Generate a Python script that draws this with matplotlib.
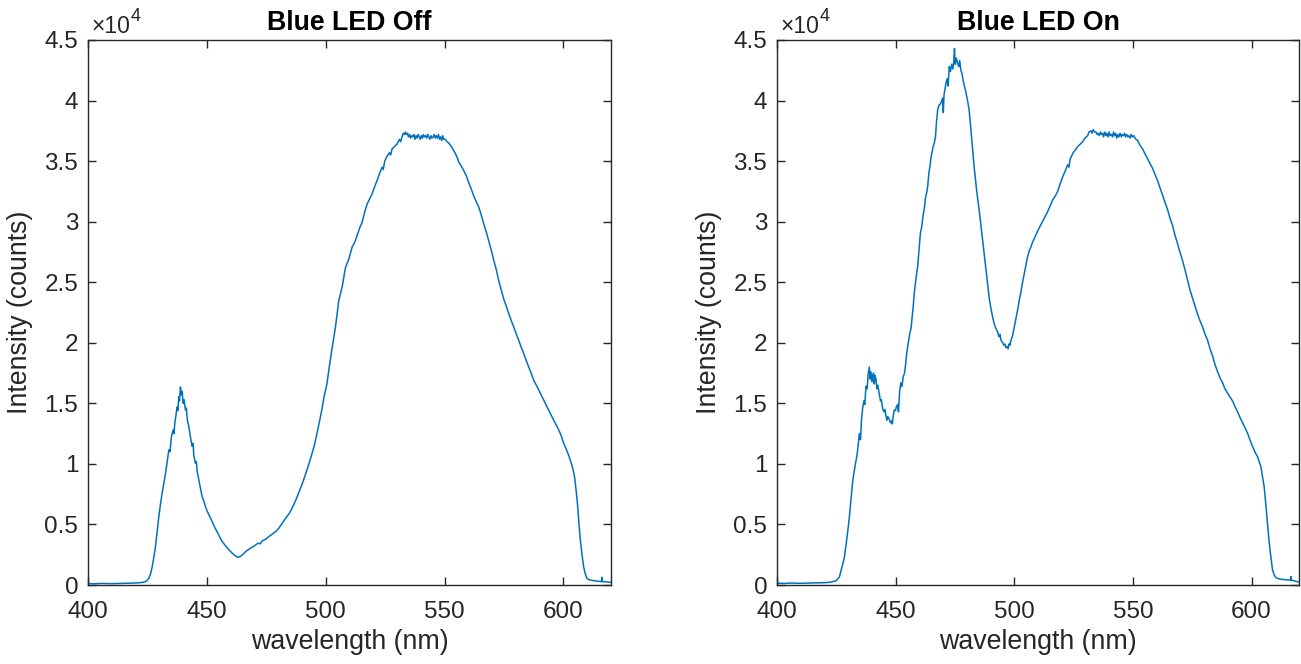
import numpy as np
import matplotlib
matplotlib.use('Agg')
import matplotlib.pyplot as plt
from matplotlib.ticker import FuncFormatter

plt.rcParams['font.family'] = ['Liberation Sans', 'DejaVu Sans']
plt.rcParams['mathtext.default'] = 'regular'

# Spectrometer readings, intensity in units of 1e4 counts
wl_off = [
    400, 403, 406, 409, 412, 415, 418, 421, 423, 424.5,
    425.6, 426.3, 427.0, 427.7, 428.4, 429.1, 429.8, 430.5, 431.2, 431.9,
    432.6, 433.3, 434.0, 434.5, 435.1, 435.8, 436.2, 436.5, 437.0, 437.5,
    437.8, 438.2, 438.5, 438.9, 439.2, 439.6, 440.0, 440.4, 441.0, 441.4,
    441.8, 442.4, 443.1, 443.8, 444.2, 444.5, 445.2, 445.6, 445.9, 446.6,
    447.3, 448.0, 448.6, 449.2, 450.1, 451.0, 452.2, 453.2, 454.3, 455.3,
    456.4, 457.8, 459.3, 460.8, 462.0, 463.2, 464.0, 465.0, 466.3, 468.0,
    469.8, 471.5, 472.5, 473.3, 474.5, 476.1, 477.5, 478.9, 480.3, 481.7,
    483.1, 484.6, 486.0, 487.4, 488.8, 490.2, 491.6, 493.0, 494.0, 495.1,
    496.1, 497.2, 498.3, 499.3, 500.5, 501.5, 502.7, 504.1, 505.5, 506.9,
    508.3, 509.7, 511.1, 512.2, 513.2, 514.3, 515.3, 516.4, 517.4, 518.5,
    519.5, 520.6, 521.6, 522.7, 523.7, 524.2, 524.8, 525.8, 526.8, 527.3,
    527.9, 528.9, 530.0, 531.0, 531.5, 532.1, 532.6, 533.1, 533.5, 533.9,
    534.4, 534.8, 535.3, 535.7, 536.2, 536.6, 537.1, 537.5, 538.0, 538.4,
    538.9, 539.3, 539.8, 540.2, 540.7, 541.1, 541.6, 542.0, 542.5, 542.9,
    543.4, 543.8, 544.3, 544.7, 545.2, 545.6, 546.1, 546.5, 547.0, 547.4,
    547.9, 548.3, 548.8, 549.2, 549.7, 550.3, 551.0, 551.7, 552.5, 553.5,
    554.6, 555.3, 556.0, 557.0, 558.1, 559.1, 560.2, 561.2, 562.3, 563.4,
    564.4, 565.5, 566.5, 567.6, 568.6, 569.7, 570.7, 571.8, 572.8, 573.9,
    574.9, 576.0, 577.0, 578.1, 579.1, 580.2, 581.2, 582.3, 583.3, 584.4,
    585.4, 586.5, 587.5, 588.6, 589.6, 590.7, 591.7, 592.8, 593.8, 594.9,
    595.9, 597.0, 598.0, 599.1, 600.1, 601.2, 602.2, 603.2, 604.1, 604.6,
    605.0, 605.5, 606.0, 606.5, 607.1, 607.8, 608.5, 609.2, 609.9, 611.0,
    612.7, 614.5, 616.0, 616.2, 616.4, 618.0, 620.0,
]
int_off = [
    0.012, 0.010, 0.013, 0.011, 0.012, 0.014, 0.015, 0.018, 0.022, 0.030,
    0.055, 0.090, 0.150, 0.230, 0.320, 0.440, 0.565, 0.670, 0.760, 0.840,
    0.920, 1.020, 1.115, 1.100, 1.225, 1.280, 1.250, 1.335, 1.400, 1.470,
    1.440, 1.555, 1.520, 1.635, 1.570, 1.600, 1.500, 1.530, 1.445, 1.460,
    1.360, 1.310, 1.220, 1.145, 1.170, 1.070, 1.005, 1.020, 0.940, 0.870,
    0.800, 0.730, 0.700, 0.660, 0.610, 0.575, 0.525, 0.480, 0.440, 0.400,
    0.360, 0.325, 0.290, 0.260, 0.240, 0.228, 0.235, 0.250, 0.275, 0.300,
    0.320, 0.345, 0.340, 0.365, 0.375, 0.400, 0.420, 0.440, 0.470, 0.510,
    0.550, 0.590, 0.640, 0.700, 0.770, 0.840, 0.920, 1.005, 1.070, 1.145,
    1.230, 1.335, 1.440, 1.555, 1.660, 1.800, 1.960, 2.130, 2.350, 2.460,
    2.620, 2.690, 2.790, 2.830, 2.885, 2.950, 2.995, 3.080, 3.145, 3.190,
    3.230, 3.290, 3.340, 3.400, 3.450, 3.430, 3.500, 3.540, 3.570, 3.550,
    3.600, 3.620, 3.640, 3.680, 3.660, 3.700, 3.730, 3.720, 3.740, 3.720,
    3.730, 3.700, 3.720, 3.690, 3.710, 3.700, 3.720, 3.680, 3.710, 3.690,
    3.720, 3.700, 3.680, 3.710, 3.690, 3.720, 3.700, 3.710, 3.690, 3.720,
    3.700, 3.680, 3.710, 3.690, 3.700, 3.720, 3.690, 3.710, 3.690, 3.720,
    3.680, 3.700, 3.670, 3.710, 3.680, 3.680, 3.660, 3.650, 3.630, 3.600,
    3.560, 3.530, 3.490, 3.460, 3.420, 3.380, 3.320, 3.270, 3.210, 3.160,
    3.120, 3.050, 2.980, 2.910, 2.840, 2.760, 2.680, 2.600, 2.510, 2.430,
    2.360, 2.300, 2.240, 2.180, 2.130, 2.070, 2.020, 1.960, 1.910, 1.850,
    1.800, 1.745, 1.690, 1.650, 1.610, 1.565, 1.525, 1.480, 1.440, 1.400,
    1.360, 1.320, 1.280, 1.230, 1.170, 1.120, 1.070, 1.010, 0.950, 0.900,
    0.840, 0.750, 0.645, 0.510, 0.370, 0.250, 0.150, 0.090, 0.055, 0.042,
    0.036, 0.031, 0.028, 0.063, 0.028, 0.025, 0.022,
]

wl_on = [
    400, 403, 406, 409, 412, 415, 418, 421, 423, 424.9,
    426.3, 427.0, 427.7, 428.4, 429.1, 429.8, 430.5, 431.2, 431.9, 432.8,
    433.7, 434.2, 434.7, 435.2, 435.6, 436.1, 436.6, 437.0, 437.5, 438.0,
    438.4, 438.9, 439.2, 439.6, 440.0, 440.3, 440.7, 441.0, 441.3, 441.7,
    442.1, 442.5, 443.1, 443.6, 444.0, 444.5, 445.0, 445.5, 445.9, 446.3,
    446.7, 447.3, 447.8, 448.3, 448.6, 449.0, 449.4, 449.9, 450.3, 450.8,
    451.2, 451.7, 452.2, 452.7, 453.2, 453.7, 454.2, 454.6, 455.1, 455.6,
    456.0, 456.5, 457.0, 457.4, 457.9, 458.4, 458.9, 459.3, 459.8, 460.1,
    460.4, 461.0, 461.5, 462.1, 462.6, 463.1, 463.5, 464.0, 464.5, 464.9,
    465.3, 465.8, 466.3, 466.8, 467.2, 467.7, 468.2, 468.8, 469.3, 469.8,
    470.1, 470.4, 471.2, 471.7, 472.1, 472.6, 473.1, 473.6, 474.1, 474.5,
    474.8, 475.1, 475.6, 476.1, 476.6, 477.0, 477.5, 478.0, 478.5, 479.0,
    479.6, 480.3, 481.0, 481.7, 482.4, 483.1, 483.8, 484.5, 485.3, 486.0,
    486.7, 487.4, 488.1, 488.8, 489.5, 490.2, 490.9, 491.5, 492.2, 493.0,
    493.5, 494.0, 494.4, 495.1, 495.6, 496.1, 496.5, 496.9, 497.4, 497.8,
    498.2, 498.6, 499.3, 500.0, 500.7, 501.4, 502.1, 502.8, 503.5, 504.2,
    504.9, 505.6, 506.3, 507.0, 507.7, 508.4, 509.1, 509.8, 510.8, 511.9,
    512.9, 514.0, 515.1, 516.2, 517.2, 518.3, 519.3, 520.4, 521.5, 522.5,
    523.0, 523.6, 524.6, 525.2, 525.7, 526.7, 527.8, 528.8, 529.8, 530.9,
    531.5, 532.3, 532.8, 533.3, 533.9, 534.4, 534.9, 535.3, 535.8, 536.3,
    536.7, 537.2, 537.6, 538.1, 538.6, 539.0, 539.5, 540.0, 540.4, 540.9,
    541.4, 541.8, 542.3, 542.7, 543.2, 543.7, 544.1, 544.6, 545.1, 545.5,
    546.0, 546.5, 546.9, 547.4, 547.9, 548.3, 548.8, 549.3, 549.8, 550.3,
    550.6, 551.3, 552.0, 553.0, 554.1, 555.1, 556.2, 557.2, 558.3, 559.3,
    560.4, 561.4, 562.5, 563.5, 564.6, 565.6, 566.7, 567.7, 568.8, 569.8,
    570.9, 572.0, 573.0, 574.0, 575.1, 576.2, 577.2, 578.3, 579.4, 580.4,
    581.5, 582.5, 583.6, 584.6, 585.7, 586.7, 587.8, 588.8, 589.9, 591.0,
    592.0, 593.0, 594.1, 595.1, 596.2, 597.2, 598.3, 599.3, 600.4, 601.4,
    602.5, 603.2, 603.9, 604.6, 605.3, 606.0, 606.7, 607.3, 607.9, 608.4,
    608.8, 609.5, 610.3, 611.3, 612.4, 614.5, 616.4, 616.6, 616.8, 618.5,
    619.8,
]
int_on = [
    0.015, 0.013, 0.016, 0.014, 0.015, 0.017, 0.018, 0.020, 0.025, 0.035,
    0.066, 0.120, 0.170, 0.230, 0.330, 0.440, 0.560, 0.710, 0.860, 0.970,
    1.070, 1.150, 1.250, 1.200, 1.360, 1.460, 1.520, 1.490, 1.640, 1.620,
    1.740, 1.800, 1.700, 1.760, 1.680, 1.730, 1.750, 1.660, 1.730, 1.700,
    1.620, 1.650, 1.580, 1.520, 1.530, 1.460, 1.430, 1.450, 1.400, 1.360,
    1.390, 1.370, 1.340, 1.355, 1.330, 1.400, 1.445, 1.440, 1.470, 1.490,
    1.430, 1.600, 1.670, 1.640, 1.720, 1.745, 1.820, 1.900, 1.970, 2.030,
    2.080, 2.120, 2.220, 2.300, 2.420, 2.500, 2.580, 2.630, 2.750, 2.820,
    2.900, 2.960, 3.040, 3.110, 3.200, 3.240, 3.290, 3.400, 3.460, 3.530,
    3.570, 3.620, 3.650, 3.700, 3.820, 3.920, 3.960, 3.970, 3.990, 4.020,
    3.900, 4.050, 4.140, 4.180, 4.120, 4.280, 4.240, 4.300, 4.260, 4.320,
    4.430, 4.300, 4.350, 4.310, 4.280, 4.330, 4.250, 4.220, 4.160, 4.120,
    4.070, 4.000, 3.920, 3.760, 3.590, 3.450, 3.320, 3.200, 3.080, 2.960,
    2.840, 2.720, 2.600, 2.480, 2.360, 2.280, 2.210, 2.160, 2.120, 2.090,
    2.050, 2.070, 2.020, 2.000, 1.980, 1.990, 1.960, 1.970, 1.950, 1.990,
    1.980, 2.020, 2.060, 2.130, 2.200, 2.270, 2.350, 2.420, 2.500, 2.570,
    2.640, 2.710, 2.760, 2.790, 2.830, 2.860, 2.890, 2.920, 2.960, 3.000,
    3.040, 3.080, 3.130, 3.180, 3.210, 3.250, 3.310, 3.370, 3.420, 3.470,
    3.450, 3.520, 3.560, 3.580, 3.590, 3.620, 3.640, 3.660, 3.690, 3.710,
    3.740, 3.750, 3.730, 3.760, 3.740, 3.740, 3.720, 3.730, 3.710, 3.740,
    3.720, 3.730, 3.700, 3.740, 3.710, 3.730, 3.700, 3.740, 3.710, 3.720,
    3.700, 3.740, 3.710, 3.730, 3.690, 3.720, 3.700, 3.730, 3.700, 3.720,
    3.710, 3.730, 3.700, 3.720, 3.700, 3.710, 3.690, 3.720, 3.700, 3.710,
    3.700, 3.680, 3.670, 3.630, 3.600, 3.560, 3.520, 3.480, 3.440, 3.390,
    3.340, 3.280, 3.220, 3.160, 3.100, 3.030, 2.970, 2.890, 2.820, 2.750,
    2.680, 2.600, 2.520, 2.440, 2.370, 2.300, 2.240, 2.180, 2.130, 2.070,
    2.020, 1.950, 1.890, 1.820, 1.760, 1.710, 1.670, 1.620, 1.585, 1.550,
    1.520, 1.475, 1.430, 1.385, 1.340, 1.300, 1.255, 1.200, 1.145, 1.100,
    1.060, 1.020, 0.980, 0.900, 0.815, 0.670, 0.510, 0.380, 0.270, 0.190,
    0.130, 0.085, 0.060, 0.052, 0.047, 0.043, 0.040, 0.070, 0.040, 0.032,
    0.025,
]

titles = ['Blue LED Off', 'Blue LED On']
x_ticks = [400, 450, 500, 550, 600]
y_ticks = np.arange(0, 4.51, 0.5) * 1e4

LINE = '#0072BD'
AXC = '#262626'
W, H = 1301, 664

fig = plt.figure(figsize=(W / 100, H / 100), dpi=100)
ax1 = fig.add_axes([88 / W, 79 / H, 523 / W, 545 / H])
ax2 = fig.add_axes([777 / W, 79 / H, 522 / W, 545 / H])


def style(ax, title):
    'MATLAB-like box axes with inward ticks on all sides.'
    ax.set_xlim(400, 620)
    ax.set_ylim(0, 4.5e4)
    ax.set_xticks(x_ticks)
    ax.set_yticks(y_ticks)
    ax.yaxis.set_major_formatter(FuncFormatter(lambda v, p: '%g' % (v / 1e4)))
    ax.tick_params(direction='in', length=6, width=1, colors=AXC,
                   labelsize=17.5, top=True, right=True)
    ax.tick_params(axis='x', pad=11.5)
    ax.tick_params(axis='y', pad=7)
    for s in ax.spines.values():
        s.set_color(AXC)
        s.set_linewidth(1)
    ax.set_xlabel('wavelength (nm)', fontsize=19.3, color=AXC, labelpad=4)
    ax.set_ylabel('Intensity (counts)', fontsize=19.3, color=AXC, labelpad=8)
    ax.set_title(title, fontsize=19.3, fontweight='bold', color='black', pad=7.5)
    # exponent marker above the top-left corner
    ax.annotate('×10', xy=(0, 1), xycoords='axes fraction', xytext=(2.5, 5),
                textcoords='offset points', fontsize=16.5, color=AXC,
                ha='left', va='baseline')
    ax.annotate('4', xy=(0, 1), xycoords='axes fraction', xytext=(30.5, 13.5),
                textcoords='offset points', fontsize=13, color=AXC,
                ha='left', va='baseline')


ax1.plot(np.array(wl_off), np.array(int_off) * 1e4, color=LINE, lw=1.1)
ax2.plot(np.array(wl_on), np.array(int_on) * 1e4, color=LINE, lw=1.1)
style(ax1, titles[0])
style(ax2, titles[1])

fig.savefig('out.png', dpi=100)
